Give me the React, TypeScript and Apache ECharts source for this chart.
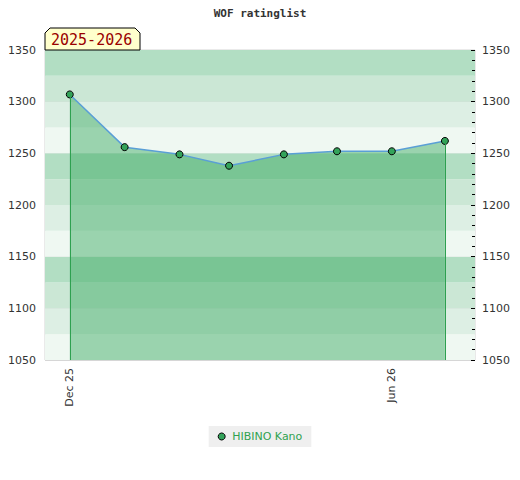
import React, { useEffect, useRef } from "react";
import * as echarts from "echarts";

const pointDates = [
  "2025-12-01", "2026-01-01", "2026-02-01", "2026-03-01",
  "2026-04-01", "2026-05-01", "2026-06-01", "2026-07-01",
];
const ratings = [1307, 1256, 1249, 1238, 1249, 1252, 1252, 1262];
const xTickDates = ["2025-12-01", "2026-06-01"];
const xTickLabels = ["Dec 25", "Jun 26"];
const playerName = "HIBINO Kano";
const seasonLabel = "2025-2026";
const chartTitle = "WOF ratinglist";
const yMin = 1050;
const yMax = 1350;

const ts = (s: string) => {
  const [y, m, d] = s.split("-").map(Number);
  return Date.UTC(y, m - 1, d);
};

export default function App() {
  const ref = useRef<HTMLDivElement>(null);
  useEffect(() => {
    if (!ref.current) return;
    document.body.style.margin = "0";
    const chart = echarts.init(ref.current, undefined, { renderer: "svg" });
    const data = pointDates.map((d, i) => [ts(d), ratings[i]]);
    const tickVals = xTickDates.map(ts);
    const first = data[0];
    const last = data[data.length - 1];
    const mono = "'DejaVu Sans Mono', monospace";
    const sans = "'DejaVu Sans', sans-serif";
    chart.setOption({
      animation: false,
      title: {
        text: chartTitle,
        left: "center",
        top: 3,
        textStyle: { fontFamily: mono, fontSize: 11, fontWeight: "bold", color: "#333" },
      },
      grid: {
        left: 45, right: 45, top: 50, bottom: 120,
        show: true, borderColor: "#d4d4d4", borderWidth: 1, backgroundColor: "transparent",
      },
      xAxis: {
        type: "value",
        min: ts("2025-11-17"),
        max: ts("2026-07-18"),
        axisLine: { show: false },
        axisTick: { show: false },
        splitLine: { show: false },
        axisLabel: {
          customValues: tickVals,
          rotate: 90,
          margin: 8,
          fontFamily: sans,
          fontSize: 11,
          color: "#333",
          formatter: (v: number) => {
            const i = tickVals.indexOf(v);
            return i >= 0 ? xTickLabels[i] : "";
          },
        },
      },
      yAxis: [
        {
          type: "value", position: "left", min: yMin, max: yMax, interval: 50,
          axisLine: { show: false }, axisTick: { show: false },
          axisLabel: { fontFamily: sans, fontSize: 11, color: "#333", margin: 9, formatter: (v: number) => String(v) },
          splitLine: { show: true, lineStyle: { color: "#d6d6d6", width: 1 } },
        },
        {
          type: "value", position: "right", min: yMin, max: yMax, interval: 50,
          axisLine: { show: false },
          axisTick: { show: true, inside: true, length: 4, lineStyle: { color: "#000" } },
          minorTick: { show: true, splitNumber: 5, length: 3, lineStyle: { color: "#000" } },
          axisLabel: { fontFamily: sans, fontSize: 11, color: "#333", margin: 7, formatter: (v: number) => String(v) },
          splitLine: { show: false },
        },
        {
          type: "value", position: "left", min: yMin, max: yMax, interval: 25,
          axisLine: { show: false }, axisTick: { show: false }, axisLabel: { show: false },
          splitLine: { show: false },
          splitArea: {
            show: true,
            areaStyle: { color: ["#eff8f2", "#ddefe4", "#cbe7d5", "#b2dec3"], opacity: 1 },
          },
        },
      ],
      legend: {
        bottom: 33,
        left: "center",
        backgroundColor: "#efefef",
        padding: [5, 9],
        itemWidth: 7,
        itemHeight: 7,
        itemGap: 10,
        textStyle: { color: "#2fa24f", fontFamily: sans, fontSize: 11, padding: [0, 0, 0, 2] },
        data: [{ name: playerName, icon: "circle", itemStyle: { color: "#33a35a", borderColor: "#000", borderWidth: 1 } }],
      },
      series: [
        {
          name: playerName,
          type: "line",
          data,
          symbol: "circle",
          symbolSize: 7,
          itemStyle: { color: "#33a35a", borderColor: "#000", borderWidth: 1 },
          lineStyle: { color: "#5a9fd6", width: 1.5 },
          areaStyle: { color: "rgba(51,166,91,0.45)", opacity: 1, origin: "start" },
          z: 3,
          markLine: {
            silent: true,
            symbol: ["none", "none"],
            label: { show: false },
            lineStyle: { color: "#2ea050", type: "solid", width: 1 },
            data: [
              [{ coord: [first[0], first[1]] }, { coord: [first[0], yMin] }],
              [{ coord: [last[0], last[1]] }, { coord: [last[0], yMin] }],
            ],
          },
        },
      ],
      graphic: [
        {
          type: "polygon",
          shape: { points: [[45, 50], [45, 33], [50, 28], [135, 28], [140, 33], [140, 50]] },
          style: { fill: "#ffffcc", stroke: "#000", lineWidth: 1 },
          z: 10,
        },
        {
          type: "text",
          x: 51,
          y: 40,
          style: {
            text: seasonLabel, fill: "#990000", font: `15px ${mono}`,
            verticalAlign: "middle",
          },
          z: 11,
        },
      ],
    });
    return () => chart.dispose();
  }, []);
  return <div ref={ref} style={{ width: 520, height: 480 }} />;
}
